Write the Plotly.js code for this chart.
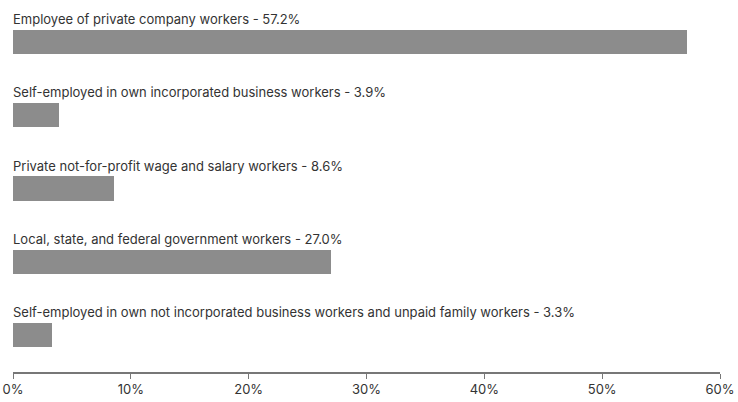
<!DOCTYPE html>
<html>
<head>
<meta charset="utf-8">
<script src="https://cdn.plot.ly/plotly-3.0.1.min.js"></script>
<style>html,body{margin:0;padding:0;background:#fff}#chart{width:738px;height:402px}</style>
</head>
<body>
<div id="chart"></div>
<script>
const categories = [
  "Employee of private company workers",
  "Self-employed in own incorporated business workers",
  "Private not-for-profit wage and salary workers",
  "Local, state, and federal government workers",
  "Self-employed in own not incorporated business workers and unpaid family workers"
];
const values = [57.2, 3.9, 8.6, 27.0, 3.3];
const tickVals = [0, 10, 20, 30, 40, 50, 60];
const tickText = ["0%", "10%", "20%", "30%", "40%", "50%", "60%"];

const idx = categories.map((_, i) => i);
const trace = {
  type: "bar",
  orientation: "h",
  x: values,
  y: idx,
  width: 0.33,
  marker: {color: "#8c8c8c", line: {width: 0}},
  hoverinfo: "skip"
};
const annotations = categories.map((c, i) => ({
  x: 0, y: i, xref: "x", yref: "y",
  text: c + " - " + values[i].toFixed(1) + "%",
  showarrow: false, xanchor: "left", yanchor: "bottom",
  yshift: 13, xshift: -2,
  font: {family: "Inter, 'Noto Sans', sans-serif", size: 13, color: "#333"}
}));
const layout = {
  width: 738, height: 402,
  margin: {l: 13, r: 18, t: 5, b: 30},
  paper_bgcolor: "#fff", plot_bgcolor: "#fff",
  showlegend: false,
  bargap: 0,
  xaxis: {
    range: [0, 60], tickvals: tickVals, ticktext: tickText,
    showgrid: false, zeroline: false,
    showline: true, linecolor: "#777", linewidth: 1.5,
    ticks: "outside", ticklen: 5, tickcolor: "#777",
    tickfont: {family: "Inter, 'Noto Sans', sans-serif", size: 13, color: "#333"},
    fixedrange: true
  },
  yaxis: {
    range: [4.5, -0.5], showticklabels: false, showgrid: false,
    zeroline: false, showline: false, ticks: "", fixedrange: true
  },
  annotations: annotations
};
Plotly.newPlot("chart", [trace], layout, {displayModeBar: false, staticPlot: true});
</script>
</body>
</html>
